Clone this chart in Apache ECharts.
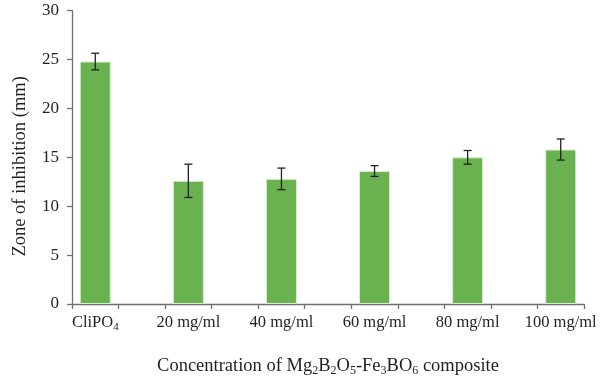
<!DOCTYPE html>
<html>
<head>
<meta charset="utf-8">
<script src="https://cdn.jsdelivr.net/npm/echarts@6/dist/echarts.min.js"></script>
<style>html,body{margin:0;padding:0;background:#fff}#c{width:600px;height:381px}</style>
</head>
<body>
<div id="c"></div>
<script>
// Data
const categories = ['CliPO4', '20 mg/ml', '40 mg/ml', '60 mg/ml', '80 mg/ml', '100 mg/ml'];
const values = [24.8, 12.6, 12.8, 13.6, 15.0, 15.8];
const errors = [0.85, 1.7, 1.1, 0.55, 0.7, 1.08];
const yTicks = [0, 5, 10, 15, 20, 25, 30];

// The original axis uses 11 slots, bars in every other slot
const slots = [];
const barData = [];
const errData = [];
categories.forEach((c, i) => {
  if (i > 0) { slots.push(''); barData.push('-'); }
  slots.push(c);
  barData.push(values[i]);
  errData.push([slots.length - 1, values[i] - errors[i], values[i] + errors[i]]);
});

const FONT = 'Liberation Serif';
const TXT = '#231f20';
const AX = '#707070';
const subStyle = { fontFamily: FONT, fontSize: 11, color: TXT, verticalAlign: 'bottom', lineHeight: 20 };
const mainStyle = { fontFamily: FONT, fontSize: 16.5, color: TXT, lineHeight: 20 };
const subStyleT = { fontFamily: FONT, fontSize: 12, color: TXT, verticalAlign: 'bottom', lineHeight: 22 };
const mainStyleT = { fontFamily: FONT, fontSize: 18.5, color: TXT, lineHeight: 22 };

function subscriptify(s) {
  return s.replace(/([A-Za-z])(\d+)/g, (m, a, d) => a + '{s|' + d + '}');
}

const chart = echarts.init(document.getElementById('c'), null, { renderer: 'canvas' });
chart.setOption({
  animation: false,
  backgroundColor: '#fff',
  grid: { left: 72, right: 16, top: 10.7, bottom: 77, containLabel: false, outerBoundsMode: 'none' },
  xAxis: {
    type: 'category',
    data: slots,
    boundaryGap: true,
    axisLine: { show: true, lineStyle: { color: AX, width: 1.3 } },
    axisTick: { show: true, interval: 0, length: 5, lineStyle: { color: AX, width: 1.3 } },
    axisLabel: {
      interval: 0, margin: 9, hideOverlap: false,
      formatter: v => v ? '{m|' + subscriptify(v).replace(/\{s\|(\d+)\}/g, '}{s|$1}{m|') + '}' : '',
      rich: { m: mainStyle, s: subStyle }
    },
    name: '{m|Concentration of Mg}{s|2}{m|B}{s|2}{m|O}{s|5}{m|-Fe}{s|3}{m|BO}{s|6}{m| composite}',
    nameLocation: 'middle',
    nameGap: 51,
    nameTextStyle: { rich: { m: mainStyleT, s: subStyleT } }
  },
  yAxis: {
    type: 'value',
    min: yTicks[0], max: yTicks[yTicks.length - 1], interval: 5,
    splitLine: { show: false },
    axisLine: { show: true, lineStyle: { color: AX, width: 1.3 } },
    axisTick: { show: true, length: 5, lineStyle: { color: AX, width: 1.3 } },
    axisLabel: { fontFamily: FONT, fontSize: 17, color: TXT, margin: 13 },
    name: 'Zone of inhibition (mm)',
    nameLocation: 'middle',
    nameGap: 42,
    nameTextStyle: { fontFamily: FONT, fontSize: 18.5, color: TXT, padding: [0, 0, 0, -18] }
  },
  series: [
    {
      type: 'bar',
      data: barData,
      barWidth: 31,
      itemStyle: { color: '#6ab150', borderColor: '#d9edd0', borderWidth: 1 }
    },
    {
      type: 'custom',
      data: errData,
      z: 10,
      renderItem: function (params, api) {
        const x = api.value(0);
        const lo = api.coord([x, api.value(1)]);
        const hi = api.coord([x, api.value(2)]);
        const hw = 4;
        const st = { stroke: '#222', lineWidth: 1.3 };
        return {
          type: 'group',
          children: [
            { type: 'line', shape: { x1: hi[0], y1: hi[1], x2: lo[0], y2: lo[1] }, style: st },
            { type: 'line', shape: { x1: hi[0] - hw, y1: hi[1], x2: hi[0] + hw, y2: hi[1] }, style: st },
            { type: 'line', shape: { x1: lo[0] - hw, y1: lo[1], x2: lo[0] + hw, y2: lo[1] }, style: st }
          ]
        };
      }
    }
  ]
});
</script>
</body>
</html>
